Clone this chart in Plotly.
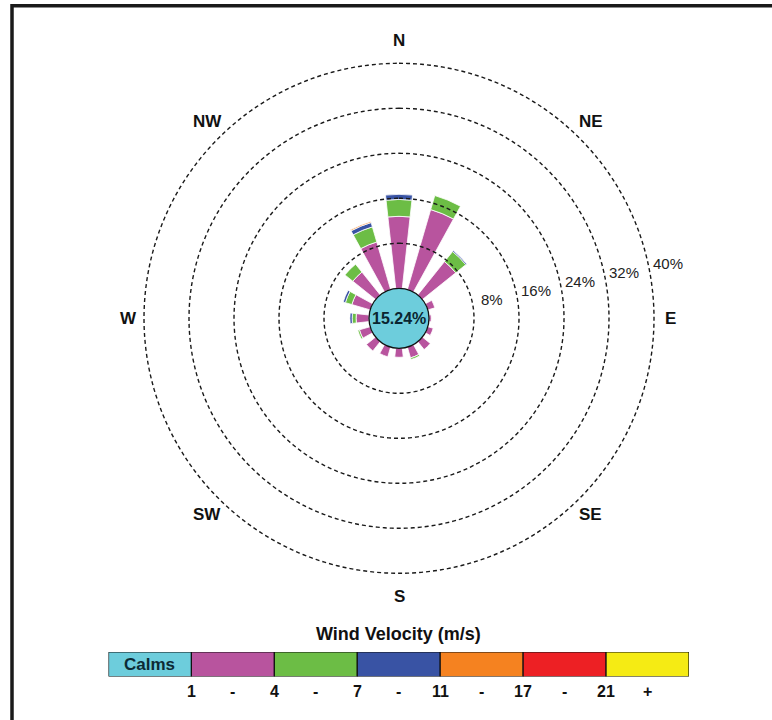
import numpy as np
import plotly.graph_objects as go

# ---------------- data ----------------
DIRECTIONS = ["N", "NNE", "NE", "ENE", "E", "ESE", "SE", "SSE",
              "S", "SSW", "SW", "WSW", "W", "WNW", "NW", "NNW"]
DIR_DEG = [0, 22.5, 45, 67.5, 90, 112.5, 135, 157.5,
           180, 202.5, 225, 247.5, 270, 292.5, 315, 337.5]

SPEED_BINS = ["1 - 4", "4 - 7", "7 - 11", "11 - 17", "17 - 21", "21 +"]
FREQ_1_4 = [12.8, 14.8, 7.6, 1.3, 0.4, 1.0, 1.8, 2.0, 1.6, 1.8, 2.1, 2.0, 2.3, 3.4, 5.2, 8.8]
FREQ_4_7 = [3.0, 2.6, 2.3, 0.0, 0.0, 0.0, 0.0, 0.3, 0.0, 0.0, 0.0, 0.3, 0.7, 1.2, 1.8, 2.8]
FREQ_7_11 = [0.9, 0.0, 0.2, 0.0, 0.0, 0.0, 0.0, 0.0, 0.0, 0.0, 0.0, 0.0, 0.4, 0.4, 0.0, 0.8]
FREQ_11_17 = [0.0] * 15 + [0.2]
FREQ_17_21 = [0.0] * 16
FREQ_21_UP = [0.0] * 16
SERIES = [FREQ_1_4, FREQ_4_7, FREQ_7_11, FREQ_11_17, FREQ_17_21, FREQ_21_UP]

CALMS_PCT = 15.24
RING_PCTS = [8, 16, 24, 32, 40]
COMPASS_LABELS = ["N", "NE", "E", "SE", "S", "SW", "W", "NW"]
COMPASS_DEG = [0, 45, 90, 135, 180, 225, 270, 315]

LEGEND_TITLE = "Wind Velocity (m/s)"
LEGEND_BOXES = ["Calms", "", "", "", "", "", ""]
LEGEND_TICK_LABELS = ["1", "-", "4", "-", "7", "-", "11", "-", "17", "-", "21", "+"]
LEGEND_TICK_POS = [1, 1.5, 2, 2.5, 3, 3.5, 4, 4.5, 5, 5.5, 6, 6.5]

# ---------------- style ----------------
CALM_COLOR = "#6DCDDC"
BIN_COLORS = ["#B8549E", "#6CBD45", "#3953A4", "#F58220", "#ED2024", "#F5EB14"]
FONT = "Liberation Sans, Arial, sans-serif"
W, H = 772, 720
CX, CY = 399, 318.3          # pixel centre of the rose
R_OUT = 255                  # pixel radius of 40 % ring
R_CALM = 30                  # pixel radius of calm circle
RING_MAX = 40
RMAX = 41                    # radial range slightly beyond outer ring
R_POLAR = R_CALM + (R_OUT - R_CALM) * RMAX / RING_MAX
BAR_WIDTH_DEG = 12.5


def px(x):
    return x / W


def py(y):
    return 1 - y / H


def rpx(p):
    return R_CALM + (R_OUT - R_CALM) * p / RING_MAX


fig = go.Figure()

for name, vals, col in zip(SPEED_BINS, SERIES, BIN_COLORS):
    fig.add_trace(go.Barpolar(
        r=vals, theta=DIR_DEG, width=[BAR_WIDTH_DEG] * len(DIR_DEG), name=name,
        marker=dict(color=col, line=dict(color="white", width=0.8)),
        hoverinfo="skip", showlegend=False,
    ))

theta_ring = np.linspace(0, 360, 361)
for p in RING_PCTS:
    fig.add_trace(go.Scatterpolar(
        r=[p] * len(theta_ring), theta=theta_ring, mode="lines",
        line=dict(color="#1a1a1a", width=1.4, dash="4px,3px"),
        cliponaxis=False, hoverinfo="skip", showlegend=False,
    ))

fig.update_layout(
    width=W, height=H, margin=dict(l=0, r=0, t=0, b=0),
    paper_bgcolor="white", plot_bgcolor="white", showlegend=False,
    barmode="overlay",
    polar=dict(
        domain=dict(x=[px(CX - R_POLAR), px(CX + R_POLAR)],
                    y=[py(CY + R_POLAR), py(CY - R_POLAR)]),
        hole=R_CALM / R_POLAR,
        bgcolor="white",
        barmode="stack",
        radialaxis=dict(range=[0, RMAX], showticklabels=False, showgrid=False,
                        showline=False, ticks=""),
        angularaxis=dict(rotation=90, direction="clockwise", showgrid=False,
                         showticklabels=False, showline=False, ticks=""),
    ),
)

annotations = []
shapes = []

# calm circle
shapes.append(dict(type="circle", xref="paper", yref="paper",
                   x0=px(CX - R_CALM), x1=px(CX + R_CALM),
                   y0=py(CY + R_CALM), y1=py(CY - R_CALM),
                   fillcolor=CALM_COLOR, line=dict(color="#111111", width=1.3),
                   layer="above"))
annotations.append(dict(xref="paper", yref="paper", x=px(CX), y=py(CY),
                        text="<b>%.2f%%</b>" % CALMS_PCT, showarrow=False,
                        font=dict(family=FONT, size=16, color="#0a2530"),
                        xanchor="center", yanchor="middle"))

# compass labels
R_LAB_X, R_LAB_Y = 271, 278
for lab, a in zip(COMPASS_LABELS, COMPASS_DEG):
    ar = np.deg2rad(a)
    annotations.append(dict(xref="paper", yref="paper",
                            x=px(CX + R_LAB_X * np.sin(ar)), y=py(CY - R_LAB_Y * np.cos(ar)),
                            text="<b>%s</b>" % lab, showarrow=False,
                            font=dict(family=FONT, size=17, color="#111111"),
                            xanchor="center", yanchor="middle"))

# ring percentage labels
LAB_ANG = np.deg2rad(78.5)
for p in RING_PCTS:
    rp = rpx(p) + 20
    annotations.append(dict(xref="paper", yref="paper",
                            x=px(CX + rp * np.sin(LAB_ANG)), y=py(CY - rp * np.cos(LAB_ANG)),
                            text="%d%%" % p, showarrow=False,
                            font=dict(family=FONT, size=15, color="#222222"),
                            xanchor="center", yanchor="middle"))

# ---------------- legend bar ----------------
LEG_X0, LEG_X1 = 108.5, 689
LEG_Y0, LEG_Y1 = 652, 676.5
legend_colors = [CALM_COLOR] + BIN_COLORS
for i, col in enumerate(legend_colors):
    fig.add_trace(go.Bar(
        x=[1], y=[0], base=[i], orientation="h", width=1,
        marker=dict(color=col, line=dict(color="#111111", width=1.2)),
        xaxis="x", yaxis="y", hoverinfo="skip", showlegend=False,
    ))
fig.update_layout(
    xaxis=dict(domain=[px(LEG_X0), px(LEG_X1)], range=[0, 7], visible=False, fixedrange=True),
    yaxis=dict(domain=[py(LEG_Y1), py(LEG_Y0)], range=[-0.5, 0.5], visible=False, fixedrange=True),
)
for i, t in enumerate(LEGEND_BOXES):
    if t:
        annotations.append(dict(xref="x", yref="y", x=i + 0.5, y=0, text="<b>%s</b>" % t,
                                showarrow=False, xanchor="center", yanchor="middle",
                                font=dict(family=FONT, size=17, color="#0c2b35")))
for pos, t in zip(LEGEND_TICK_POS, LEGEND_TICK_LABELS):
    annotations.append(dict(xref="x", yref="paper", x=pos, y=py(691), text="<b>%s</b>" % t,
                            showarrow=False, xanchor="center", yanchor="middle",
                            font=dict(family=FONT, size=16, color="#111111")))
annotations.append(dict(xref="paper", yref="paper", x=px((LEG_X0 + LEG_X1) / 2), y=py(634),
                        text="<b>%s</b>" % LEGEND_TITLE, showarrow=False,
                        xanchor="center", yanchor="middle",
                        font=dict(family=FONT, size=18, color="#111111")))

# outer frame (extends beyond the image at right / bottom)
shapes.append(dict(type="rect", xref="paper", yref="paper",
                   x0=px(12), x1=1.05, y0=-0.05, y1=py(5.7),
                   line=dict(color="#1a1a1a", width=3.5), fillcolor="rgba(0,0,0,0)",
                   layer="above"))

fig.update_layout(annotations=annotations, shapes=shapes)
fig.write_html("out.html",
               config={"displayModeBar": False, "staticPlot": True},
               post_script="document.body.style.margin='0px';"
                           "document.body.style.overflow='hidden';")
